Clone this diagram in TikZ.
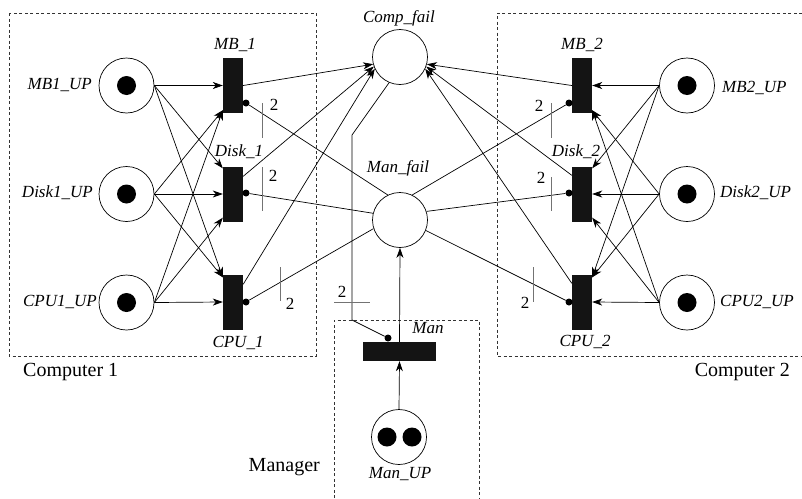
\documentclass[tikz,border=0pt]{standalone}
\usepackage{fontspec}
\setmainfont{Liberation Serif}
\usetikzlibrary{arrows.meta,calc}
\begin{document}
\begin{tikzpicture}[x=1pt,y=-1pt,
  place/.style={circle,draw,line width=0.7pt,minimum size=55pt,inner sep=0pt},
  trans/.style={rectangle,fill=black!92,minimum width=20pt,minimum height=55pt,inner sep=0pt},
  htrans/.style={rectangle,fill=black!92,minimum width=73pt,minimum height=19pt,inner sep=0pt},
  token/.style={circle,fill=black,minimum size=19pt,inner sep=0pt},
  arc/.style={line width=0.7pt,-{Stealth[length=10pt,width=7pt,inset=3pt]}},
  inh/.style={line width=0.7pt},
  idot/.style={circle,fill=black,minimum size=7pt,inner sep=0pt},
  tickmark/.style={line width=0.9pt,black!55},
  lab/.style={font=\fontsize{17}{17}\selectfont\itshape,inner sep=0pt},
  num/.style={font=\fontsize{17}{17}\selectfont,inner sep=0pt},
  grp/.style={font=\fontsize{20}{20}\selectfont,inner sep=0pt},
  grpbox/.style={dash pattern=on 3pt off 2.5pt,line width=0.7pt,black!80}
]
\useasboundingbox (0,0) rectangle (802,498);

% group boxes
\draw[grpbox] (9,13) rectangle (316,356);
\draw[grpbox] (802,13) -- (497,13) -- (497,356) -- (802,356);
\draw[grpbox] (334,498) -- (334,320) -- (479,320) -- (479,498);
\node[grp,anchor=west] (g1) at (23,372) {Computer 1};
\node[grp,anchor=east] (g2) at (790,372) {Computer 2};
\node[grp,anchor=east] (g3) at (320,467) {Manager};

% places
\node[place] (mb1u) at (126.5,85.5) {};
\node[place] (dk1u) at (126.5,194) {};
\node[place] (cp1u) at (126.5,302.5) {};
\node[place] (mb2u) at (687,85.5) {};
\node[place] (dk2u) at (687,194) {};
\node[place] (cp2u) at (687,302.5) {};
\node[place] (cf) at (400,57) {};
\node[place] (mf) at (400,220) {};
\node[place] (mu) at (399,437) {};
\node[token] (k1) at (mb1u) {};
\node[token] (k2) at (dk1u) {};
\node[token] (k3) at (cp1u) {};
\node[token] (k4) at (mb2u) {};
\node[token] (k5) at (dk2u) {};
\node[token] (k6) at (cp2u) {};
\node[token] (k7) at (387,437) {};
\node[token] (k8) at (412,437) {};

% transitions
\node[trans] (mb1t) at (233,85.5) {};
\node[trans] (dk1t) at (233,194) {};
\node[trans] (cp1t) at (233,302) {};
\node[trans] (mb2t) at (582,85.5) {};
\node[trans] (dk2t) at (582,194) {};
\node[trans] (cp2t) at (582,302) {};
\node[htrans] (mt) at (399.5,351.5) {};

% labels
\node[lab,anchor=east] (l1) at (92,85) {MB1\_UP};
\node[lab,anchor=east] (l2) at (93,193) {Disk1\_UP};
\node[lab,anchor=east] (l3) at (97,302) {CPU1\_UP};
\node[lab,anchor=west] (l4) at (722,88) {MB2\_UP};
\node[lab,anchor=west] (l5) at (720,193) {Disk2\_UP};
\node[lab,anchor=west] (l6) at (720,302) {CPU2\_UP};
\node[lab] (l7) at (235,45) {MB\_1};
\node[lab] (l8) at (239,152) {Disk\_1};
\node[lab] (l9) at (238,343) {CPU\_1};
\node[lab] (l10) at (582,45) {MB\_2};
\node[lab] (l11) at (576,152) {Disk\_2};
\node[lab] (l12) at (585,342) {CPU\_2};
\node[lab] (l13) at (399,18) {Comp\_fail};
\node[lab] (l14) at (398,168) {Man\_fail};
\node[lab] (l15) at (428,328) {Man};
\node[lab] (l16) at (400,474) {Man\_UP};

% input arcs, computer 1
\draw[arc] (mb1u.east) -- (mb1t.west);
\draw[arc] (mb1u.east) -- ($(dk1t.north west)+(0,2)$);
\draw[arc] (mb1u.east) -- ($(cp1t.north west)+(0,3)$);
\draw[arc] (dk1u.east) -- ($(mb1t.south west)+(0,-3)$);
\draw[arc] (dk1u.east) -- (dk1t.west);
\draw[arc] (dk1u.east) -- ($(cp1t.north west)+(0,3)$);
\draw[arc] (cp1u.east) -- ($(mb1t.south west)+(0,-3)$);
\draw[arc] (cp1u.east) -- ($(dk1t.south west)+(0,-4)$);
\draw[arc] (cp1u.east) -- (cp1t.west);

% input arcs, computer 2
\draw[arc] (mb2u.west) -- (mb2t.east);
\draw[arc] (mb2u.west) -- ($(dk2t.north east)+(0,2)$);
\draw[arc] (mb2u.west) -- ($(cp2t.north east)+(0,3)$);
\draw[arc] (dk2u.west) -- ($(mb2t.south east)+(0,-3)$);
\draw[arc] (dk2u.west) -- (dk2t.east);
\draw[arc] (dk2u.west) -- ($(cp2t.north east)+(0,3)$);
\draw[arc] (cp2u.west) -- ($(mb2t.south east)+(0,-3)$);
\draw[arc] (cp2u.west) -- ($(dk2t.south east)+(0,-4)$);
\draw[arc] (cp2u.west) -- (cp2t.east);

% output arcs to Comp_fail
\draw[arc] (mb1t.east) -- (cf.195);
\draw[arc] ($(dk1t.north east)+(0,10)$) -- (cf.200);
\draw[arc] ($(cp1t.north east)+(0,10)$) -- (cf.205);
\draw[arc] (mb2t.west) -- (cf.-15);
\draw[arc] ($(dk2t.north west)+(0,9)$) -- (cf.-20);
\draw[arc] ($(cp2t.north west)+(0,9)$) -- (cf.-25);

% manager arcs
\draw[arc] (mu.north) -- (mt.south);
\draw[arc] (mt.north) -- (mf.south);

% inhibitor arcs from Man_fail
\node[idot] (d1) at (246,103) {};
\node[idot] (d2) at (246,193) {};
\node[idot] (d3) at (246,302) {};
\node[idot] (d4) at (569,103) {};
\node[idot] (d5) at (569,193) {};
\node[idot] (d6) at (569,302) {};
\node[idot] (d7) at (388,338) {};
\draw[inh] (mf.116) -- (d1);
\draw[inh] (mf.166) -- (d2);
\draw[inh] (mf.198) -- (d3);
\draw[inh] (mf.64) -- (d4);
\draw[inh] (mf.18) -- (d5);
\draw[inh] (mf.-22) -- (d6);
\coordinate (c1) at (352,135);
\coordinate (c2) at (352,320);
\draw[inh] (cf.247) -- (c1) -- (c2) -- (d7);

% multiplicity marks
\draw[tickmark] (262,103) -- (262,138);
\node[num] (n1) at (274,105) {2};
\draw[tickmark] (262,167) -- (262,211);
\node[num] (n2) at (273,176) {2};
\draw[tickmark] (280,267) -- (280,301);
\node[num] (n3) at (290,304) {2};
\draw[tickmark] (551,103) -- (551,138);
\node[num] (n4) at (539,106) {2};
\draw[tickmark] (551,177) -- (551,211);
\node[num] (n5) at (541,178) {2};
\draw[tickmark] (533,267) -- (533,302);
\node[num] (n6) at (525,303) {2};
\draw[tickmark] (334,302) -- (370,302);
\node[num] (n7) at (342,292) {2};
\end{tikzpicture}
\end{document}
